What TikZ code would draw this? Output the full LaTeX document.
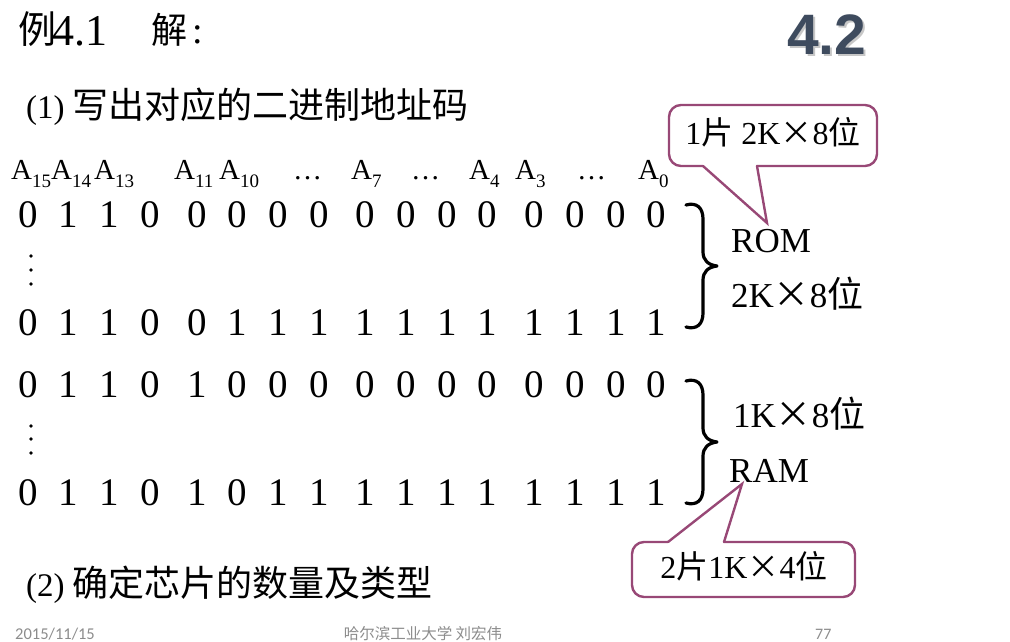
\documentclass[tikz,border=0pt]{standalone}
\usepackage{fontspec}
\setmainfont{Liberation Serif}
\newfontfamily\cjk{Noto Sans CJK SC}
\newfontfamily\hsans{Liberation Sans}
\newfontfamily\footf{Carlito}
\definecolor{callc}{RGB}{152,72,118}
\definecolor{titc}{RGB}{62,75,94}
\definecolor{footc}{RGB}{140,140,140}
\newcommand{\fs}[1]{\fontsize{#1}{#1}\selectfont}
\newcommand{\Asub}[1]{A\raisebox{-0.28em}{\fs{19}#1}}
\begin{document}
\begin{tikzpicture}[x=1pt,y=-1pt,
  txt/.style={inner sep=0pt, anchor=base west},
  ctr/.style={inner sep=0pt, anchor=base},
  dig/.style={inner sep=0pt, anchor=base, font=\fs{39}},
  alab/.style={inner sep=0pt, anchor=base west, font=\fs{29}},
  brc/.style={line width=3.2pt, line cap=round, line join=round},
  cbox/.style={draw=callc, line width=2.4pt, line cap=round},
  dotf/.style={fill=black}]
\useasboundingbox (0,0) rectangle (1010,642);

% title
\node[txt, font=\cjk\fs{38}] (li) at (18,44) {例};
\node[txt, font=\fs{44}] (num) at (52,46) {4.1};
\node[txt, font=\cjk\fs{36}] (jie) at (151,44) {解};
\node[txt, font=\fs{38}] (colon) at (192,44) {:};

% 4.2
\node[txt, font=\hsans\bfseries\fs{57}, text=black!22] (t42s) at (789,57) {4.2};
\node[txt, font=\hsans\bfseries\fs{57}, text=titc] (t42) at (787,55) {4.2};

% (1)
\node[txt, font=\fs{33}] (s1) at (26,118) {(1) {\cjk\fs{36}写出对应的二进制地址码}};

% address labels
\node[alab] (a15) at (11,179) {\Asub{15}};
\node[alab] (a14) at (51,179) {\Asub{14}};
\node[alab] (a13) at (94,179) {\Asub{13}};
\node[alab] (a11) at (174,179) {\Asub{11}};
\node[alab] (a10) at (219,179) {\Asub{10}};
\node[alab] (e1) at (293,179) {\dots};
\node[alab] (a7) at (351,179) {\Asub{7}};
\node[alab] (e2) at (411,179) {\dots};
\node[alab] (a4) at (469,179) {\Asub{4}};
\node[alab] (a3) at (515,179) {\Asub{3}};
\node[alab] (e3) at (577,179) {\dots};
\node[alab] (a0) at (638,179) {\Asub{0}};

% digit rows
\foreach \r/\yy/\bits in {1/227/{0,1,1,0,0,0,0,0,0,0,0,0,0,0,0,0},
                          2/335/{0,1,1,0,0,1,1,1,1,1,1,1,1,1,1,1},
                          3/397/{0,1,1,0,1,0,0,0,0,0,0,0,0,0,0,0},
                          4/505/{0,1,1,0,1,0,1,1,1,1,1,1,1,1,1,1}}{
  \foreach \b [count=\i] in \bits {
    \pgfmathsetmacro{\xx}{28+(\i-1)*40.7+floor((\i-1)/4)*6}
    \node[dig] (r\r d\i) at (\xx,\yy) {\b};
  }
}

% vertical dots
\foreach \yy [count=\k] in {256,270,284} \fill[dotf] (31,\yy) coordinate (va\k) circle (1.9);
\foreach \yy [count=\k] in {426,439,453} \fill[dotf] (31,\yy) coordinate (vb\k) circle (1.9);

% braces
\coordinate (b1t) at (686,204);
\coordinate (b2t) at (686,380);
\foreach \c in {b1t,b2t}{
  \draw[brc, shift={(\c)}] (0,1) .. controls (11,-2) and (17,4) .. (17,15) -- (17,48)
     .. controls (17,56) and (22,61) .. (31,62) .. controls (22,63) and (17,68) .. (17,76)
     -- (17,109) .. controls (17,120) and (11,126) .. (0,123);
}

% right labels
\node[txt, font=\fs{35}] (rom) at (731,252) {ROM};
\node[txt, font=\fs{35}] (rom2) at (731,307) {2K{\cjk\fs{36}×}8{\cjk\fs{36}位}};
\node[txt, font=\fs{35}] (ram1) at (733,427) {1K{\cjk\fs{36}×}8{\cjk\fs{36}位}};
\node[txt, font=\fs{35}] (ram) at (729,482) {RAM};

% callout 1
\coordinate (c1a) at (703,166);
\coordinate (c1b) at (757,166);
\coordinate (tip1) at (767,223);
\draw[cbox, rounded corners=12pt] (c1b) -- (877,166) -- (877,105) -- (669,105) -- (669,166) -- (c1a);
\draw[cbox, line join=miter] (c1a) -- (tip1) -- (c1b);
\node[ctr, font=\fs{32}] (call1) at (773,144) {1{\cjk 片} 2K{\cjk ×}8{\cjk 位}};

% callout 2
\coordinate (c2a) at (668,542);
\coordinate (c2b) at (724,542);
\coordinate (tip2) at (742,484);
\draw[cbox, rounded corners=12pt] (c2b) -- (855,542) -- (855,597) -- (632,597) -- (632,542) -- (c2a);
\draw[cbox, line join=miter] (c2a) -- (tip2) -- (c2b);
\node[ctr, font=\fs{32}] (call2) at (744,578) {2{\cjk 片}1K{\cjk ×}4{\cjk 位}};

% (2)
\node[txt, font=\fs{33}] (s2) at (26,596) {(2) {\cjk\fs{36}确定芯片的数量及类型}};

% footer
\node[txt, font=\footf\fs{16.5}, text=footc] (fdate) at (15,639) {2015/11/15};
\node[ctr, font=\cjk\fs{15.5}, text=footc] (fname) at (423,639) {哈尔滨工业大学 刘宏伟};
\node[txt, font=\footf\fs{16}, text=footc] (fpage) at (815,639) {77};
\end{tikzpicture}
\end{document}
